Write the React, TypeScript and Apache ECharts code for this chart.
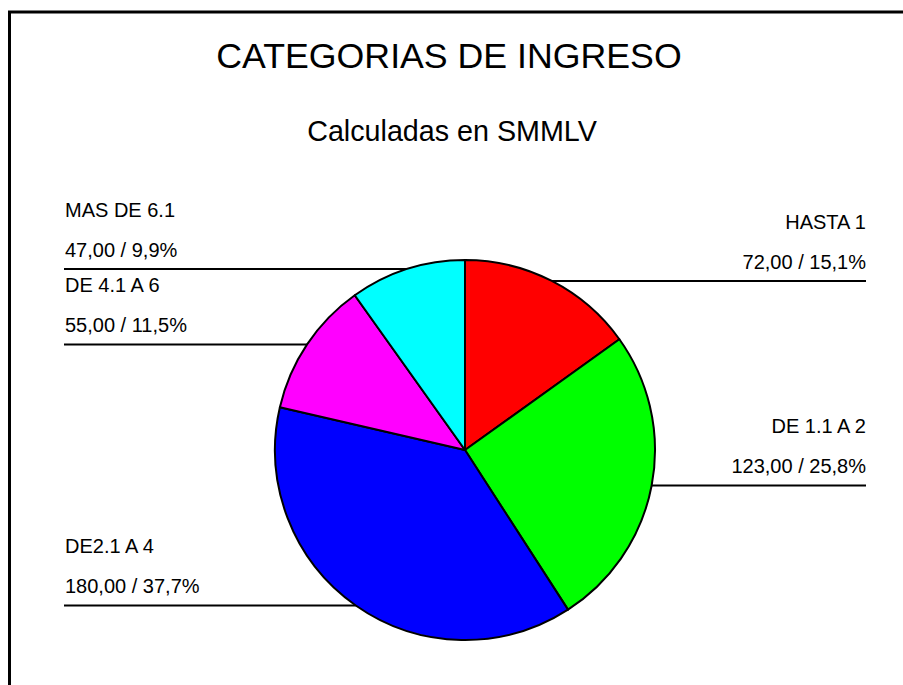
import React, { useEffect, useRef } from "react";
import * as echarts from "echarts";

const TITLE = "CATEGORIAS DE INGRESO";
const SUBTITLE = "Calculadas en SMMLV";
const categories = ["HASTA 1", "DE 1.1 A 2", "DE2.1 A 4", "DE 4.1 A 6", "MAS DE 6.1"];
const values = [72, 123, 180, 55, 47];
const colors = ["#FF0000", "#00FF00", "#0000FF", "#FF00FF", "#00FFFF"];

const FONT = "'Liberation Sans', Arial, Helvetica, sans-serif";

export default function App() {
  const ref = useRef<HTMLDivElement>(null);
  useEffect(() => {
    if (!ref.current) return;
    const chart = echarts.init(ref.current, null, { renderer: "svg" });
    const total = values.reduce((a, b) => a + b, 0);
    const cx = 465;
    const cy = 450;
    const fmt = (v: number, d: number) => v.toFixed(d).replace(".", ",");
    chart.setOption({
      animation: false,
      backgroundColor: "#ffffff",
      title: [
        {
          text: TITLE,
          left: 444,
          top: 33,
          textAlign: "center",
          textStyle: { fontFamily: FONT, fontSize: 35.7, fontWeight: "normal", color: "#000" },
        },
        {
          text: SUBTITLE,
          left: 447,
          top: 111,
          textAlign: "center",
          textStyle: { fontFamily: FONT, fontSize: 28.7, fontWeight: "normal", color: "#000" },
        },
      ],
      graphic: [
        {
          type: "polyline",
          shape: { points: [[9.5, 690], [9.5, 12], [910, 12]] },
          style: { stroke: "#000", lineWidth: 3, fill: null },
          silent: true,
        },
      ],
      series: [
        {
          type: "pie",
          center: [cx, cy],
          radius: 190,
          startAngle: 90,
          clockwise: true,
          avoidLabelOverlap: false,
          data: categories.map((name, i) => ({
            name,
            value: values[i],
            itemStyle: { color: colors[i] },
          })),
          itemStyle: { borderColor: "#000", borderWidth: 2 },
          label: {
            show: true,
            position: "outside",
            fontFamily: FONT,
            fontSize: 20,
            lineHeight: 40,
            color: "#000",
            formatter: (p: any) =>
              p.name + "\n" + fmt(p.value, 2) + " / " + fmt((p.value / total) * 100, 1) + "%",
          },
          labelLine: {
            show: true,
            length: 5,
            length2: 5,
            lineStyle: { color: "#000", width: 2 },
          },
          labelLayout: (params: any) => {
            const pts = params.labelLinePoints;
            if (!pts || !pts.length) return {};
            const x0 = pts[0][0];
            const y0 = pts[0][1];
            const left = x0 < cx;
            return {
              x: left ? 65 : 866,
              y: y0 + 1,
              align: left ? "left" : "right",
              verticalAlign: "bottom",
              labelLinePoints: [
                [x0, y0],
                [left ? 64 : 866, y0],
              ],
            };
          },
        },
      ],
    });
    return () => chart.dispose();
  }, []);
  return (
    <div
      ref={ref}
      style={{ position: "absolute", left: 0, top: 0, width: 903, height: 685 }}
    />
  );
}
